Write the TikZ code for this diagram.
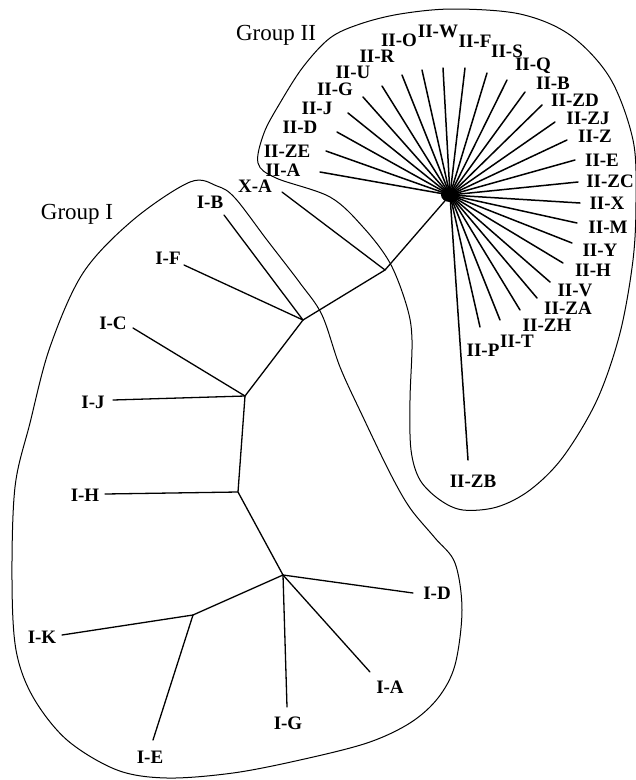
\documentclass[tikz,border=0pt]{standalone}
\usepackage{fontspec}
\setmainfont{Liberation Serif}
\begin{document}
\begin{tikzpicture}[x=1pt,y=-1pt,
 leaf/.style={font=\fontsize{19}{19}\selectfont\bfseries, inner sep=0pt},
 grp/.style={font=\fontsize{23}{23}\selectfont, inner sep=0pt},
 branch/.style={line width=1.3pt, line cap=round},
 spoke/.style={line width=1.5pt, line cap=round},
 outline/.style={line width=1pt}]
\useasboundingbox (0,0) rectangle (636,780);
\fill[white] (0,0) rectangle (636,780);

% group outlines
\draw[outline] plot[smooth cycle, tension=0.55] coordinates {
 (190,182) (217,186) (235,198) (267,240) (300,283) (322,315) (340,367)
 (363,417) (390,473) (410,508) (435,538) (455,563) (462,610) (455,665)
 (438,698) (410,723) (367,743) (300,760) (233,773) (167,778) (117,770)
 (67,740) (33,697) (16,650) (12,580) (15,487) (30,423) (50,347) (83,273)
 (133,220)};
\draw[outline] plot[smooth cycle, tension=0.55] coordinates {
 (258,163) (276,178) (330,197) (363,227) (390,263) (407,307) (412,340)
 (410,400) (411,450) (420,480) (440,500) (463,510) (497,507) (530,490)
 (563,457) (597,400) (620,333) (633,260) (636,200) (633,140) (610,78)
 (570,35) (520,14) (453,9) (400,14) (360,24) (330,38) (303,67) (280,103)
 (264,133)};

\node[grp] (g1) at (77,214) {Group I};
\node[grp] (g2) at (276,35) {Group II};

% hub of group II
\coordinate (hub) at (450,195);
\fill (hub) ellipse (9pt and 7pt);

\foreach \n/\t/\lx/\ly/\ex/\ey in {
 A/II-A/283/170/320/172, ZE/II-ZE/287/151/326/151, D/II-D/300/127/337/132,
 J/II-J/317/108/348/113, G/II-G/335/89/363/97, U/II-U/353/72/382/86,
 R/II-R/377/56/402/75, O/II-O/399/40/422/70, W/II-W/438/31/443/68,
 F/II-F/475/41/465/68, S/II-S/507/51/487/73, Q/II-Q/533/66/507/80,
 B/II-B/553/83/525/92, ZD/II-ZD/575/100/542/105, ZJ/II-ZJ/588/118/555/122,
 Z/II-Z/595/136/567/140, E/II-E/602/160/575/160, ZC/II-ZC/610/181/578/182,
 X/II-X/607/203/580/203, M/II-M/608/227/577/223, Y/II-Y/600/250/572/243,
 H/II-H/593/270/563/263, V/II-V/575/290/550/282, ZA/II-ZA/568/308/537/298,
 ZH/II-ZH/547/325/520/310, T/II-T/517/341/500/320, P/II-P/483/350/480/327,
 ZB/II-ZB/473/481/468/460}{
  \node[leaf] (lII\n) at (\lx,\ly) {\t};
  \coordinate (eII\n) at (\ex,\ey);
  \draw[spoke] (hub) -- (eII\n);
}

% group I tree
\coordinate (nX) at (385,270);
\coordinate (n1) at (303,320);
\coordinate (n2) at (245,396);
\coordinate (n3) at (238,492);
\coordinate (n4) at (283,575);
\coordinate (n5) at (193,615);
\draw[branch] (hub) -- (nX) -- (n1) -- (n2) -- (n3) -- (n4) -- (n5);

\foreach \n/\t/\lx/\ly/\ex/\ey/\p in {
 XA/X-A/255/186/282/192/nX, IB/I-B/210/202/224/215/n1, IF/I-F/168/258/184/265/n1,
 IC/I-C/113/323/133/328/n2, IJ/I-J/93/402/113/400/n2, IH/I-H/85/495/105/494/n3,
 ID/I-D/437/593/413/593/n4, IA/I-A/390/687/370/672/n4, IG/I-G/288/723/287/707/n4,
 IK/I-K/42/637/62/635/n5, IE/I-E/150/757/153/740/n5}{
  \node[leaf] (l\n) at (\lx,\ly) {\t};
  \coordinate (e\n) at (\ex,\ey);
  \draw[branch] (\p) -- (e\n);
}
\end{tikzpicture}
\end{document}
